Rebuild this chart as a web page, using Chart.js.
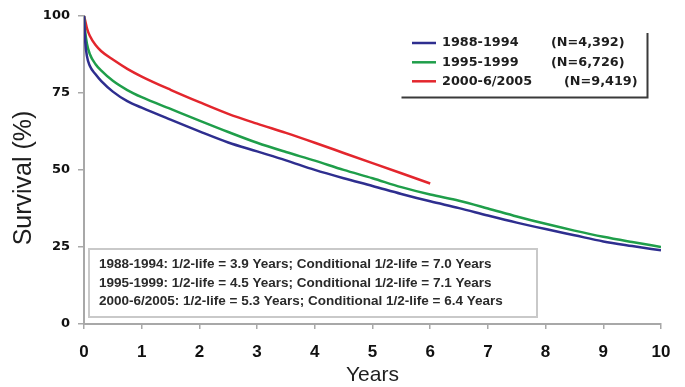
<!DOCTYPE html>
<html>
<head>
<meta charset="utf-8">
<script src="https://cdn.jsdelivr.net/npm/chart.js@4/dist/chart.umd.min.js"></script>
<style>
  html, body { margin: 0; padding: 0; background: #ffffff; }
  #wrap { position: relative; width: 685px; height: 387px; }
</style>
</head>
<body>
<div id="wrap"><canvas id="c" width="685" height="387"></canvas></div>
<script>
// ---- data ----
const years = [0, 0.02, 0.05, 0.1, 0.2, 0.3, 0.5, 0.75, 1, 1.5, 2, 2.5, 3, 3.5, 4, 4.5, 5, 5.5, 6, 6.5, 7, 7.5, 8, 8.5, 9, 9.5, 10];
const survival1988 = [100, 92, 87, 83.8, 81, 78.8, 75.4, 72.3, 70.2, 66.3, 62.5, 58.9, 56, 53.1, 50, 47.3, 44.8, 42.2, 39.8, 37.6, 35.2, 32.9, 30.8, 28.8, 26.8, 25.3, 23.9];
const survival1995 = [100, 95, 91, 87.6, 84.3, 82.2, 78.9, 75.9, 73.6, 69.8, 66, 62.3, 58.8, 55.8, 53, 50, 47.3, 44.4, 42, 40, 37.5, 34.9, 32.5, 30.3, 28.3, 26.6, 25];
const survival2000 = [100, 98.5, 96, 93.5, 90.5, 88.5, 85.8, 82.8, 80.3, 76, 72, 68.2, 65, 62, 58.8, 55.5, 52.2, 48.9, 45.6];
const seriesNames = ['1988-1994', '1995-1999', '2000-6/2005'];
const seriesN = ['(N=4,392)', '(N=6,726)', '(N=9,419)'];
const halfLifeNotes = [
  '1988-1994: 1/2-life = 3.9 Years; Conditional 1/2-life = 7.0 Years',
  '1995-1999: 1/2-life = 4.5 Years; Conditional 1/2-life = 7.1 Years',
  '2000-6/2005: 1/2-life = 5.3 Years; Conditional 1/2-life = 6.4 Years'
];
const xTicks = [0, 1, 2, 3, 4, 5, 6, 7, 8, 9, 10];
const yTicks = [0, 25, 50, 75, 100];
const colors = ['#2e2e8f', '#1f9e4a', '#e3262d'];

const toPts = (vals) => vals.map((v, i) => ({ x: years[i], y: v }));

const overlay = {
  id: 'overlay',
  afterDraw(chart) {
    const ctx = chart.ctx;
    ctx.save();
    // Y axis title
    ctx.save();
    ctx.translate(24, 178);
    ctx.rotate(-Math.PI / 2);
    ctx.font = '25px "Liberation Sans", Arial, sans-serif';
    ctx.fillStyle = '#1e1e1e';
    ctx.textAlign = 'center';
    ctx.textBaseline = 'middle';
    ctx.fillText('Survival (%)', 0, 0);
    ctx.restore();

    // Legend box (right + bottom borders)
    ctx.strokeStyle = '#3a3a3a';
    ctx.lineWidth = 2;
    ctx.beginPath();
    ctx.moveTo(647.5, 33);
    ctx.lineTo(647.5, 97.5);
    ctx.lineTo(401.5, 97.5);
    ctx.stroke();
    const rowY = [43, 62.3, 81.3];
    const nX = [551, 551, 564];
    ctx.font = 'bold 12.8px "DejaVu Sans", sans-serif';
    ctx.textBaseline = 'middle';
    ctx.textAlign = 'left';
    for (let i = 0; i < 3; i++) {
      ctx.strokeStyle = colors[i];
      ctx.lineWidth = 2.5;
      ctx.beginPath();
      ctx.moveTo(412, rowY[i]);
      ctx.lineTo(436, rowY[i]);
      ctx.stroke();
      ctx.fillStyle = '#1e1e1e';
      ctx.fillText(seriesNames[i], 442, rowY[i]);
      ctx.fillText(seriesN[i], nX[i], rowY[i]);
    }

    // Annotation box
    ctx.strokeStyle = '#c9c9c9';
    ctx.lineWidth = 2;
    ctx.fillStyle = '#ffffff';
    ctx.fillRect(89, 249, 448, 68);
    ctx.strokeRect(89, 249, 448, 68);
    ctx.font = 'bold 13.5px "Liberation Sans", Arial, sans-serif';
    ctx.fillStyle = '#2a2a2a';
    ctx.textBaseline = 'alphabetic';
    const noteY = [268, 286.5, 305];
    for (let i = 0; i < halfLifeNotes.length; i++) {
      ctx.fillText(halfLifeNotes[i], 99, noteY[i]);
    }
    ctx.restore();
  }
};

new Chart(document.getElementById('c'), {
  type: 'line',
  data: {
    datasets: [
      { label: seriesNames[0], data: toPts(survival1988), borderColor: colors[0] },
      { label: seriesNames[1], data: toPts(survival1995), borderColor: colors[1] },
      { label: seriesNames[2], data: toPts(survival2000), borderColor: colors[2] }
    ].map(d => Object.assign(d, { borderWidth: 2.5, pointRadius: 0, fill: false, cubicInterpolationMode: 'monotone' }))
  },
  options: {
    responsive: false,
    animation: false,
    layout: { padding: { top: 15, right: 24, left: 0, bottom: 0 } },
    plugins: { legend: { display: false }, tooltip: { enabled: false } },
    scales: {
      x: {
        type: 'linear', min: 0, max: 10,
        afterBuildTicks: (s) => { s.ticks = xTicks.map(v => ({ value: v })); },
        afterFit: (s) => { s.height = 63; },
        ticks: { font: { family: '"Liberation Sans", Arial, sans-serif', size: 17, weight: 'bold' }, color: '#111', padding: 13, maxRotation: 0 },
        grid: { drawOnChartArea: false, drawTicks: true, tickLength: 5, color: '#a8a8a8', lineWidth: 1.5 },
        border: { display: true, color: '#a8a8a8', width: 2 },
        title: { display: true, text: 'Years', color: '#1e1e1e', font: { family: '"Liberation Sans", Arial, sans-serif', size: 21, lineHeight: 1 }, padding: { top: 0, bottom: 1 } }
      },
      y: {
        min: 0, max: 100,
        afterBuildTicks: (s) => { s.ticks = yTicks.map(v => ({ value: v })); },
        afterFit: (s) => { s.width = 84; },
        ticks: { font: { family: '"DejaVu Sans", sans-serif', size: 13, weight: 'bold' }, color: '#111', padding: 8 },
        grid: { drawOnChartArea: false, drawTicks: true, tickLength: 6, color: '#a8a8a8', lineWidth: 1.5 },
        border: { display: true, color: '#a8a8a8', width: 2 }
      }
    }
  },
  plugins: [overlay]
});
</script>
</body>
</html>
